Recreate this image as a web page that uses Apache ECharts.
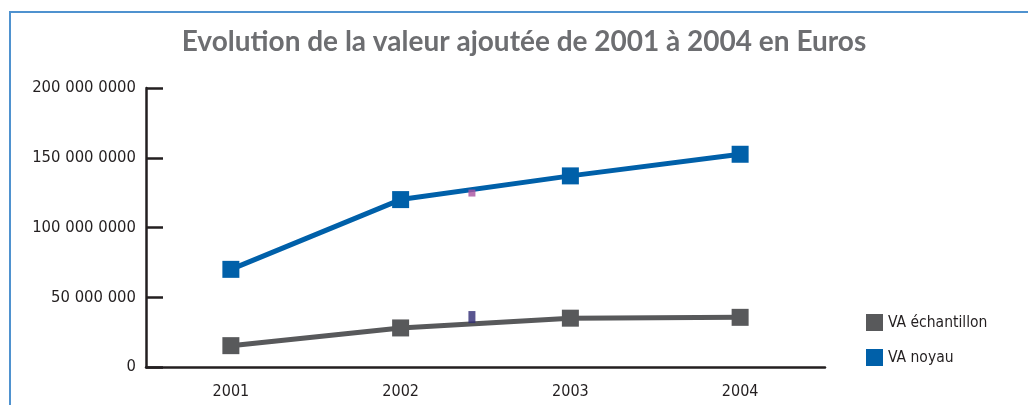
<!DOCTYPE html>
<html>
<head>
<meta charset="utf-8">
<script src="https://cdn.jsdelivr.net/npm/echarts@6/dist/echarts.min.js"></script>
<style>
	html, body { margin: 0; padding: 0; background: #fff; }
	#chart { width: 1028px; height: 405px; }
</style>
</head>
<body>
<div id="chart"></div>
<script>
var years = ['2001', '2002', '2003', '2004'];
var vaEchantillon = [15300000, 28000000, 35000000, 35600000]; // gris
var vaNoyau = [70000000, 120000000, 137000000, 152500000]; // bleu
var yTickLabels = ['0', '50 000 000', '100 000 0000', '150 000 0000', '200 000 0000'];
// petites marques parasites entre 2002 et 2003 (position x sur 0..4)
var strayX = [1.92, 1.92];
var strayY = [124700000, 35800000];
var strayColors = ['#a9519f', '#2f2b74'];

var labelFont = "'DejaVu Sans Condensed', sans-serif";

function chartVA() {
	var myChart = echarts.init(document.getElementById('chart'));
	var strayData = [];
	for (var i = 0; i < strayX.length; i++) {
		strayData.push({
			value: [strayX[i], strayY[i]],
			symbolSize: i == 0 ? [7, 7] : [7, 12],
			itemStyle: { color: strayColors[i] }
		});
	}
	var option = {
		animation: false,
		title: {
			text: 'Evolution de la valeur ajoutée de 2001 à 2004 en Euros',
			left: 519,
			textAlign: 'center',
			top: 23,
			textStyle: {
				fontFamily: 'Lato',
				fontWeight: 'bold',
				fontSize: 28,
				color: '#6d6e71'
			}
		},
		legend: {
			data: ['VA échantillon', 'VA noyau'],
			orient: 'vertical',
			left: 861,
			top: 309,
			icon: 'rect',
			itemWidth: 17,
			itemHeight: 17,
			itemGap: 18,
			textStyle: {
				fontFamily: labelFont,
				fontSize: 15.5,
				color: '#231f20'
			}
		},
		grid: {
			left: 146,
			right: 203,
			top: 88,
			bottom: 38
		},
		xAxis: [{
			type: 'category',
			data: years,
			boundaryGap: true,
			axisLine: {
				lineStyle: { color: '#231f20', width: 2.5 }
			},
			axisTick: {
				inside: true,
				length: 9,
				lineStyle: { color: '#231f20', width: 2.5 }
			},
			axisLabel: {
				margin: 17,
				fontFamily: labelFont,
				fontSize: 16,
				color: '#231f20'
			}
		}, {
			type: 'value',
			min: 0,
			max: 4,
			show: false
		}],
		yAxis: {
			type: 'value',
			min: 0,
			max: 200000000,
			interval: 50000000,
			splitLine: { show: false },
			axisLine: {
				show: true,
				lineStyle: { color: '#231f20', width: 2.5 }
			},
			axisTick: {
				show: true,
				inside: true,
				length: 17,
				lineStyle: { color: '#231f20', width: 2.5 }
			},
			axisLabel: {
				margin: 10,
				fontFamily: labelFont,
				fontSize: 16.5,
				color: '#231f20',
				formatter: function(v) {
					return yTickLabels[Math.round(v / 50000000)];
				}
			}
		},
		series: [{
			name: 'VA échantillon',
			type: 'line',
			data: vaEchantillon,
			symbol: 'rect',
			symbolSize: 17,
			color: '#58595b',
			lineStyle: { width: 5, color: '#58595b' },
			itemStyle: { color: '#58595b' }
		}, {
			name: 'VA noyau',
			type: 'line',
			data: vaNoyau,
			symbol: 'rect',
			symbolSize: 17,
			color: '#0060a9',
			lineStyle: { width: 5, color: '#0060a9' },
			itemStyle: { color: '#0060a9' }
		}, {
			name: 'marques',
			type: 'scatter',
			xAxisIndex: 1,
			symbol: 'rect',
			data: strayData,
			silent: true,
			z: 3
		}],
		graphic: [{
			type: 'rect',
			shape: { x: 10, y: 12, width: 1100, height: 500 },
			style: { fill: 'none', stroke: '#4f92cf', lineWidth: 2 },
			silent: true
		}]
	};
	myChart.setOption(option);
}

chartVA();
</script>
</body>
</html>
